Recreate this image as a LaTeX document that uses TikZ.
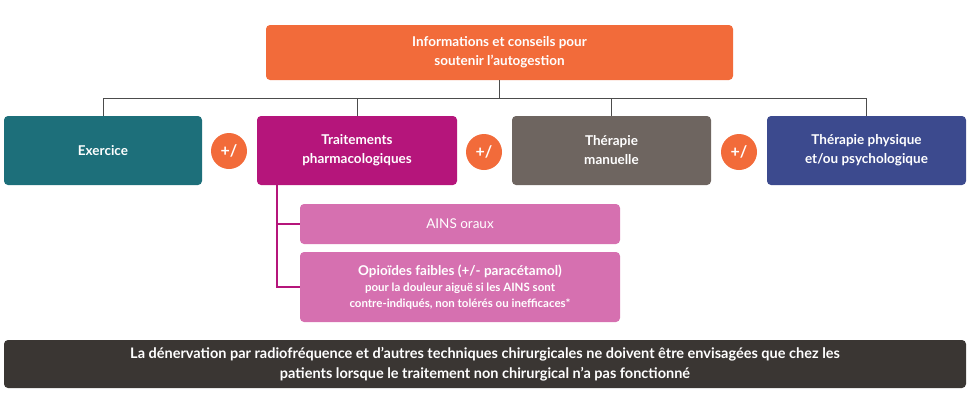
\documentclass[tikz,border=0pt]{standalone}
\usepackage{fontspec}
\setmainfont{Lato}
\definecolor{orangeC}{HTML}{F26B3A}
\definecolor{tealC}{HTML}{1D6F7A}
\definecolor{magC}{HTML}{B5157B}
\definecolor{greyC}{HTML}{6E6560}
\definecolor{navyC}{HTML}{3C4A8E}
\definecolor{pinkC}{HTML}{D670B0}
\definecolor{darkC}{HTML}{3A3633}
\begin{document}
\begin{tikzpicture}[x=1pt,y=-1pt,
  box/.style={rounded corners=4pt,text=white,font=\bfseries\fontsize{13.5}{19}\selectfont,align=center,inner sep=0pt},
  plus/.style={circle,fill=orangeC,text=white,minimum size=36pt,inner sep=0pt,font=\bfseries\fontsize{16}{18}\selectfont},
  ln/.style={draw=black!70,line width=0.8pt}]
\useasboundingbox (0,0) rectangle (970,416);
\fill[box,orangeC] (266,25) rectangle (733,80);
\node[box] (top) at (499.5,52.5) {Informations et conseils pour\\soutenir l'autogestion};
\coordinate (tb) at (499.5,80);
\fill[box,tealC] (4,116) rectangle (202,185);
\node[box] (ex) at (103,150.5) {Exercice};
\fill[box,magC] (257,116) rectangle (457,185);
\node[box] (tr) at (357,150.5) {Traitements\\pharmacologiques};
\fill[box,greyC] (512,116) rectangle (711,185);
\node[box] (man) at (611.5,150.5) {Thérapie\\manuelle};
\fill[box,navyC] (767,116) rectangle (966,185);
\node[box] (phy) at (866.5,150.5) {Thérapie physique\\et/ou psychologique};
\draw[ln] (tb) -- (499.5,98);
\draw[ln] (103,116) -- (103,98) -- (866.5,98) -- (866.5,116);
\draw[ln] (357,98) -- (357,116);
\draw[ln] (611.5,98) -- (611.5,116);
\node[plus] (p1) at (229,151) {+/};
\node[plus] (p2) at (484,152) {+/};
\node[plus] (p3) at (739,152) {+/};
\fill[box,pinkC] (300,204) rectangle (620,244);
\node[box,font=\fontsize{13.5}{17}\selectfont] (ains) at (460,224) {AINS oraux};
\fill[box,pinkC] (300,252) rectangle (620,322);
\node[box,font=\bfseries\fontsize{11.5}{16}\selectfont] (op) at (460,287) {{\fontsize{13.5}{17}\selectfont Opioïdes faibles (+/- paracétamol)}\\pour la douleur aiguë si les AINS sont\\contre-indiqués, non tolérés ou inefficaces*};
\draw[draw=magC,line width=1.2pt] (277,185) -- (277,287) -- (300,287);
\draw[draw=magC,line width=1.2pt] (277,224) -- (300,224);
\fill[box,darkC] (4,340) rectangle (966,388);
\node[box,font=\bfseries\fontsize{14.5}{20}\selectfont] (bot) at (485,364) {La dénervation par radiofréquence et d'autres techniques chirurgicales ne doivent être envisagées que chez les\\patients lorsque le traitement non chirurgical n'a pas fonctionné};
\end{tikzpicture}
\end{document}
